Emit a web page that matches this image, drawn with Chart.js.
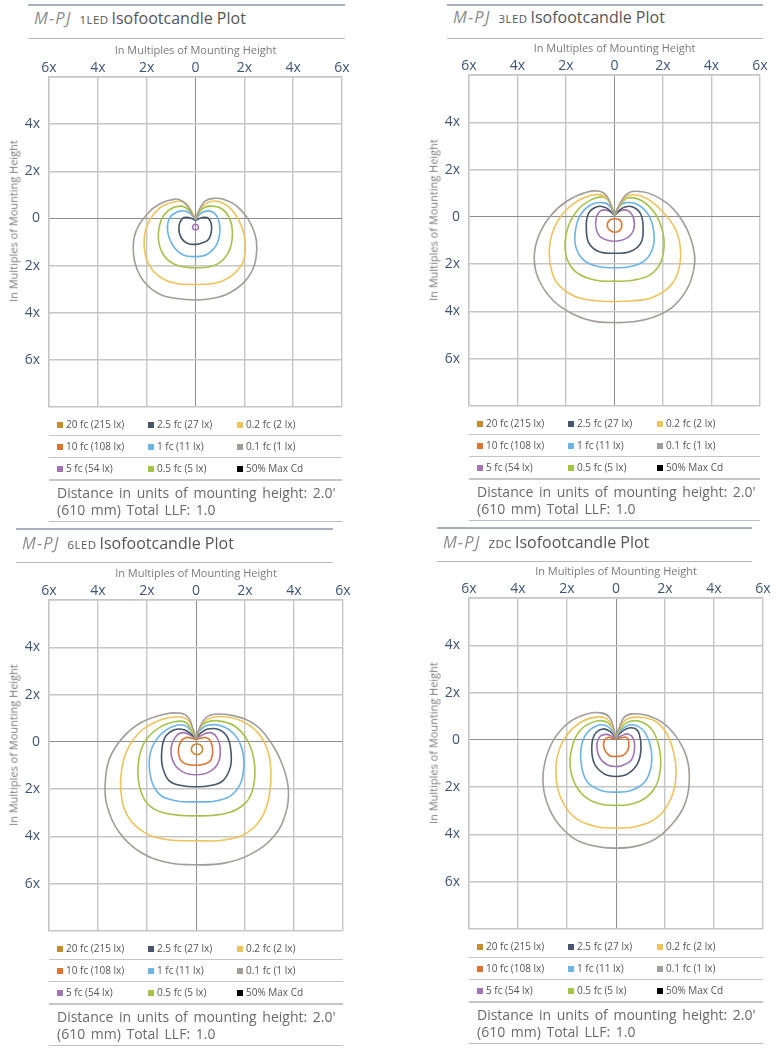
<!DOCTYPE html>
<html>
<head>
<meta charset="utf-8">
<title>M-PJ Isofootcandle Plots</title>
<script src="https://cdn.jsdelivr.net/npm/chart.js@4.4.1/dist/chart.umd.min.js"></script>
<style>
    body { margin: 0; background: #fff; font-family: 'Open Sans', sans-serif; }
    #page { position: relative; width: 781px; height: 1049px; overflow: hidden; background: #fff; }
    .rule-top { position: absolute; height: 2px; background: #a8b0bf; }
    .rule { position: absolute; height: 1px; background: #b9b9b9; }
    .ptitle { position: absolute; font-size: 16px; color: #555; white-space: nowrap; line-height: 20px; transform: translateY(-50%); }
    .ptitle .model { font-style: italic; color: #8d8d8d; margin-right: 8px; font-size: 16.5px; letter-spacing: 1.2px; }
    .ptitle .ver { font-size: 11.5px; color: #555; margin-right: 3px; letter-spacing: 0.4px; }
    .ytitle { position: absolute; font-size: 11px; color: #7a7a7a; white-space: nowrap; transform: translate(-50%, -50%) rotate(-90deg); }
    .wrap { position: absolute; }
    .legend { position: absolute; }
    .lrow { position: relative; height: 21px; border-bottom: 1px solid #c6c6c6; font-size: 10px; color: #555; }
    .lrow.last { border-bottom: 2px solid #c6c6c6; }
    .litem { position: absolute; top: 0; line-height: 21px; white-space: nowrap; }
    .sw { display: inline-block; width: 6px; height: 6px; margin-right: 3px; vertical-align: 0px; }
    .dist { font-size: 14px; word-spacing: 2px; white-space: nowrap; color: #6a6a6a; line-height: 17px; padding: 3px 0 0 8px; height: 37px; border-bottom: 1.5px solid #bdbdbd; }
</style>
</head>
<body>
<div id="page"></div>

<script>
// ---- AXES ----
const X_TICKS = [-6, -4, -2, 0, 2, 4, 6];
const X_TICK_LABELS = ['6x', '4x', '2x', '0', '2x', '4x', '6x'];
const Y_TICKS = [6, 4, 2, 0, -2, -4, -6, -8];
const Y_TICK_LABELS = ['', '4x', '2x', '0', '2x', '4x', '6x', ''];
const AXIS_TITLE = 'In Multiples of Mounting Height';

// ---- LEGEND (row-major, 3 columns) ----
const LEGEND_LABELS = ['20 fc (215 lx)', '2.5 fc (27 lx)', '0.2 fc (2 lx)',
                       '10 fc (108 lx)', '1 fc (11 lx)', '0.1 fc (1 lx)',
                       '5 fc (54 lx)', '0.5 fc (5 lx)', '50% Max Cd'];
const LEGEND_KEYS = ['fc20', 'fc2_5', 'fc0_2', 'fc10', 'fc1', 'fc0_1', 'fc5', 'fc0_5', 'maxcd'];
const LEVEL_COLORS = {
    fc20: '#c68d30', fc10: '#dd7431', fc5: '#a274b3', fc2_5: '#46566b',
    fc1: '#6cb3e6', fc0_5: '#a5c34b', fc0_2: '#edc35c', fc0_1: '#a19d99', maxcd: '#000000'
};
const NOTE_LINES = ["Distance in units of mounting height: 2.0'", '(610 mm) Total LLF: 1.0'];

// ---- CONTOURS: [x, y] in multiples of mounting height (y up = behind) ----
// 1LED
const LED1_GRAY = [[0,-0.04],[0.16,0.38],[0.39,0.73],[0.73,0.85],[1.14,0.81],[1.69,0.52],[2.16,-0.04],[2.44,-0.68],[2.51,-1.24],[2.4,-2.02],[2.03,-2.66],[1.41,-3.15],[0.73,-3.39],[0,-3.46],[-0.77,-3.4],[-1.46,-3.22],[-2.07,-2.73],[-2.44,-2.02],[-2.55,-1.17],[-2.41,-0.47],[-2.0,0.17],[-1.46,0.62],[-0.84,0.82],[-0.53,0.73],[-0.29,0.48],[-0.12,0.14],[0,-0.04]];
const LED1_YELLOW = [[0,-0.04],[0.18,0.38],[0.48,0.66],[0.87,0.73],[1.41,0.45],[1.82,-0.18],[2.03,-0.96],[1.96,-1.81],[1.55,-2.37],[0.87,-2.73],[0,-2.8],[-0.91,-2.73],[-1.59,-2.37],[-2.0,-1.74],[-2.1,-0.89],[-1.93,-0.18],[-1.46,0.45],[-0.84,0.71],[-0.43,0.66],[-0.16,0.31],[0,-0.04]];
const LED1_GREEN = [[0,-0.04],[0.25,0.38],[0.59,0.52],[1.07,0.41],[1.41,-0.04],[1.51,-0.75],[1.34,-1.45],[0.87,-1.95],[0,-2.09],[-0.84,-1.95],[-1.32,-1.53],[-1.52,-0.82],[-1.39,-0.04],[-1.05,0.38],[-0.57,0.52],[-0.23,0.31],[0,-0.04]];
const LED1_BLUE = [[0,-0.04],[0.25,0.24],[0.59,0.31],[0.87,0.1],[1.0,-0.47],[0.87,-1.1],[0.46,-1.53],[0,-1.62],[-0.5,-1.55],[-0.91,-1.17],[-1.14,-0.54],[-1.05,0.03],[-0.64,0.31],[-0.25,0.24],[0,-0.04]];
const LED1_DARK = [[0,-0.08],[0.25,0.03],[0.53,0],[0.66,-0.4],[0.53,-0.89],[0.18,-1.07],[0,-1.1],[-0.29,-1.07],[-0.57,-0.85],[-0.68,-0.4],[-0.53,0],[-0.25,0.03],[0,-0.08]];
const LED1_PURPLE = [[0,-0.25],[0.085,-0.285],[0.12,-0.37],[0.085,-0.455],[0,-0.49],[-0.085,-0.455],[-0.12,-0.37],[-0.085,-0.285],[0,-0.25]];

// 3LED
const LED3_GRAY = [[0,0.05],[0.2,0.52],[0.48,0.94],[0.82,1.08],[1.56,0.94],[2.38,0.38],[2.99,-0.53],[3.29,-1.52],[3.27,-2.22],[2.99,-3.06],[2.38,-3.83],[1.56,-4.26],[0.75,-4.44],[0,-4.47],[-0.88,-4.41],[-1.7,-4.12],[-2.52,-3.55],[-3.13,-2.64],[-3.31,-1.73],[-3.13,-0.81],[-2.65,0.03],[-1.97,0.66],[-1.16,1.04],[-0.61,1.08],[-0.31,0.87],[-0.14,0.45],[0,0.05]];
const LED3_YELLOW = [[0,0.05],[0.2,0.48],[0.61,0.91],[1.29,0.8],[1.97,0.24],[2.52,-0.53],[2.72,-1.38],[2.65,-2.22],[2.31,-2.92],[1.56,-3.41],[0.75,-3.55],[0,-3.58],[-0.88,-3.54],[-1.7,-3.34],[-2.38,-2.78],[-2.65,-2.01],[-2.68,-1.24],[-2.45,-0.39],[-1.97,0.31],[-1.29,0.8],[-0.61,0.94],[-0.27,0.73],[-0.1,0.31],[0,0.05]];
const LED3_GREEN = [[0,0.05],[0.2,0.45],[0.54,0.8],[1.16,0.66],[1.7,0.1],[2.0,-0.67],[2.04,-1.31],[1.9,-1.94],[1.5,-2.43],[0.82,-2.67],[0,-2.72],[-0.82,-2.67],[-1.56,-2.36],[-1.95,-1.8],[-2.04,-1.1],[-1.9,-0.39],[-1.5,0.31],[-0.95,0.73],[-0.48,0.84],[-0.18,0.59],[0,0.05]];
const LED3_BLUE = [[0,0.05],[0.14,0.38],[0.41,0.59],[0.95,0.52],[1.43,0.03],[1.63,-0.74],[1.56,-1.38],[1.22,-1.87],[0.61,-2.11],[0,-2.15],[-0.61,-2.11],[-1.22,-1.87],[-1.56,-1.38],[-1.63,-0.74],[-1.43,0.03],[-0.95,0.52],[-0.41,0.59],[-0.14,0.38],[0,0.05]];
const LED3_DARK = [[0,0.05],[0.34,0.38],[0.75,0.42],[1.09,0.1],[1.18,-0.53],[1.09,-1.1],[0.68,-1.45],[0,-1.54],[-0.68,-1.45],[-1.06,-1.1],[-1.16,-0.53],[-1.09,0.1],[-0.75,0.42],[-0.34,0.38],[0,0.05]];
const LED3_PURPLE = [[0,0.05],[0.2,0.24],[0.54,0.27],[0.78,-0.04],[0.79,-0.53],[0.54,-0.88],[0,-1.03],[-0.54,-0.88],[-0.75,-0.53],[-0.75,-0.04],[-0.54,0.27],[-0.2,0.24],[0,0.05]];
const LED3_ORANGE = [[0.03,-0.07],[0.23,-0.14],[0.3,-0.35],[0.23,-0.56],[0.03,-0.65],[-0.2,-0.56],[-0.3,-0.35],[-0.2,-0.14],[0.03,-0.07]];

// 6LED
const LED6_GRAY = [[0,0.14],[0.18,0.68],[0.41,1.03],[0.75,1.17],[1.56,1.1],[2.38,0.75],[3.06,-0.03],[3.54,-1.01],[3.77,-2.0],[3.67,-2.99],[3.2,-3.97],[2.24,-4.75],[1.16,-5.13],[0,-5.2],[-1.16,-5.1],[-2.24,-4.68],[-3.13,-3.83],[-3.63,-2.7],[-3.71,-1.86],[-3.54,-0.73],[-2.99,0.18],[-2.24,0.82],[-1.29,1.17],[-0.61,1.21],[-0.31,1.03],[-0.14,0.61],[0,0.14]];
const LED6_YELLOW = [[0,0.14],[0.18,0.61],[0.48,0.96],[1.02,1.07],[1.84,0.89],[2.52,0.39],[2.93,-0.38],[3.06,-1.3],[2.99,-2.28],[2.72,-3.13],[2.11,-3.83],[1.16,-4.15],[0,-4.18],[-1.16,-4.14],[-2.11,-3.83],[-2.79,-3.13],[-3.06,-2.14],[-3.03,-1.15],[-2.79,-0.31],[-2.24,0.46],[-1.43,0.93],[-0.75,1.06],[-0.34,0.93],[-0.14,0.54],[0,0.14]];
const LED6_GREEN = [[0,0.14],[0.14,0.54],[0.41,0.82],[0.88,0.89],[1.56,0.68],[2.11,0.04],[2.38,-0.87],[2.35,-1.86],[2.04,-2.56],[1.29,-3.01],[0,-3.13],[-1.29,-3.01],[-1.97,-2.63],[-2.31,-1.86],[-2.35,-0.87],[-2.11,-0.03],[-1.56,0.56],[-0.88,0.85],[-0.41,0.82],[-0.18,0.46],[0,0.14]];
const LED6_BLUE = [[0,0.14],[0.14,0.46],[0.48,0.7],[1.02,0.68],[1.56,0.32],[1.88,-0.31],[1.95,-1.08],[1.77,-1.86],[1.22,-2.39],[0,-2.54],[-1.22,-2.39],[-1.7,-1.93],[-1.9,-1.15],[-1.84,-0.38],[-1.5,0.25],[-0.95,0.65],[-0.48,0.7],[-0.16,0.42],[0,0.14]];
const LED6_DARK = [[0,0.14],[0.14,0.32],[0.48,0.54],[0.95,0.51],[1.29,0.18],[1.43,-0.45],[1.4,-1.08],[1.09,-1.65],[0.54,-1.86],[0,-1.9],[-0.54,-1.86],[-1.09,-1.65],[-1.36,-1.08],[-1.4,-0.45],[-1.27,0.18],[-0.88,0.51],[-0.48,0.51],[-0.14,0.28],[0,0.14]];
const LED6_PURPLE = [[0,0.14],[0.14,0.23],[0.54,0.39],[0.82,0.23],[0.99,-0.31],[0.88,-0.94],[0.48,-1.3],[0,-1.39],[-0.48,-1.3],[-0.88,-0.94],[-1.02,-0.31],[-0.82,0.23],[-0.5,0.39],[-0.14,0.23],[0,0.14]];
const LED6_ORANGE = [[0,0.1],[0.14,0.14],[0.41,0.18],[0.61,0],[0.68,-0.45],[0.54,-0.85],[0,-0.99],[-0.54,-0.87],[-0.72,-0.45],[-0.64,-0.03],[-0.41,0.18],[-0.14,0.14],[0,0.1]];
const LED6_GOLD = [[0.04,-0.08],[0.2,-0.15],[0.27,-0.31],[0.2,-0.47],[0.04,-0.54],[-0.12,-0.47],[-0.19,-0.31],[-0.12,-0.15],[0.04,-0.08]];

// ZDC
const ZDC_GRAY = [[0,0.07],[0.14,0.54],[0.34,0.96],[0.68,1.1],[1.29,1.03],[1.97,0.68],[2.52,0.04],[2.9,-0.8],[2.99,-1.79],[2.79,-2.77],[2.24,-3.62],[1.36,-4.32],[0,-4.58],[-1.36,-4.35],[-2.18,-3.76],[-2.72,-2.92],[-2.97,-1.93],[-2.9,-0.94],[-2.52,0.04],[-1.9,0.75],[-1.16,1.1],[-0.61,1.14],[-0.27,0.96],[-0.11,0.54],[0,0.07]];
const ZDC_YELLOW = [[0,0.07],[0.14,0.46],[0.41,0.86],[0.88,0.96],[1.56,0.82],[2.04,0.32],[2.35,-0.52],[2.45,-1.51],[2.24,-2.49],[1.7,-3.27],[0.88,-3.65],[0,-3.73],[-0.88,-3.65],[-1.7,-3.27],[-2.24,-2.49],[-2.45,-1.51],[-2.35,-0.52],[-1.97,0.25],[-1.43,0.75],[-0.82,0.96],[-0.37,0.89],[-0.14,0.46],[0,0.07]];
const ZDC_GREEN = [[0,0.07],[0.14,0.39],[0.48,0.75],[1.02,0.77],[1.5,0.39],[1.77,-0.38],[1.81,-1.23],[1.56,-2.07],[0.95,-2.61],[0,-2.77],[-0.95,-2.61],[-1.56,-2.07],[-1.86,-1.23],[-1.81,-0.38],[-1.5,0.35],[-0.95,0.75],[-0.41,0.77],[-0.11,0.44],[0,0.07]];
const ZDC_BLUE = [[0,0.07],[0.14,0.32],[0.48,0.61],[0.88,0.58],[1.22,0.25],[1.43,-0.38],[1.43,-1.15],[1.16,-1.79],[0.61,-2.14],[0,-2.21],[-0.61,-2.14],[-1.16,-1.79],[-1.4,-1.15],[-1.43,-0.38],[-1.22,0.25],[-0.82,0.58],[-0.41,0.61],[-0.11,0.32],[0,0.07]];
const ZDC_DARK = [[0,0.07],[0.14,0.25],[0.41,0.46],[0.75,0.49],[0.95,0.25],[1.02,-0.38],[0.88,-1.01],[0.48,-1.44],[0,-1.55],[-0.48,-1.44],[-0.88,-1.01],[-0.99,-0.38],[-0.88,0.21],[-0.54,0.46],[-0.23,0.35],[0,0.07]];
const ZDC_PURPLE = [[0,0.07],[0.18,0.15],[0.48,0.25],[0.71,0.04],[0.75,-0.45],[0.61,-0.87],[0.27,-1.08],[0,-1.13],[-0.34,-1.06],[-0.64,-0.8],[-0.78,-0.31],[-0.68,0.11],[-0.41,0.23],[-0.14,0.14],[0,0.07]];
const ZDC_ORANGE = [[0,0.05],[0.18,0.08],[0.41,0.11],[0.52,-0.07],[0.48,-0.45],[0.27,-0.66],[0,-0.7],[-0.27,-0.66],[-0.48,-0.38],[-0.48,-0.03],[-0.31,0.11],[-0.14,0.07],[0,0.05]];

// Panel layout (pixel boxes of each plot area + its header)
const PANELS = [
    { ver: '1LED', plot: { l: 49, t: 77, r: 342, b: 407 }, head: { x1: 28, x2: 345, r1: 4, ty: 19, r2: 38 },
      contours: [['fc0_1', LED1_GRAY], ['fc0_2', LED1_YELLOW], ['fc0_5', LED1_GREEN], ['fc1', LED1_BLUE], ['fc2_5', LED1_DARK], ['fc5', LED1_PURPLE]] },
    { ver: '3LED', plot: { l: 469, t: 75, r: 760, b: 406 }, head: { x1: 447, x2: 763, r1: 4, ty: 18, r2: 38 },
      contours: [['fc0_1', LED3_GRAY], ['fc0_2', LED3_YELLOW], ['fc0_5', LED3_GREEN], ['fc1', LED3_BLUE], ['fc2_5', LED3_DARK], ['fc5', LED3_PURPLE], ['fc10', LED3_ORANGE]] },
    { ver: '6LED', plot: { l: 49, t: 600, r: 343, b: 931 }, head: { x1: 16, x2: 333, r1: 528, ty: 544, r2: 562 },
      contours: [['fc0_1', LED6_GRAY], ['fc0_2', LED6_YELLOW], ['fc0_5', LED6_GREEN], ['fc1', LED6_BLUE], ['fc2_5', LED6_DARK], ['fc5', LED6_PURPLE], ['fc10', LED6_ORANGE], ['fc20', LED6_GOLD]] },
    { ver: 'ZDC', plot: { l: 469, t: 598, r: 763, b: 929 }, head: { x1: 437, x2: 752, r1: 527, ty: 543, r2: 561 },
      contours: [['fc0_1', ZDC_GRAY], ['fc0_2', ZDC_YELLOW], ['fc0_5', ZDC_GREEN], ['fc1', ZDC_BLUE], ['fc2_5', ZDC_DARK], ['fc5', ZDC_PURPLE], ['fc10', ZDC_ORANGE]] }
];

const GRID_COLOR = '#c6c6c6';
const ZERO_COLOR = '#8e8e8e';
const TICK_COLOR = '#3f5672';
const Y_AXIS_W = 49;
const X_AXIS_H = 37;
const PAD_RIGHT = 12;
const PAD_BOTTOM = 20; // must exceed the y-scale's own bottom padding (half label + tick padding)

function el(tag, cls, css) {
    const d = document.createElement(tag);
    if (cls) d.className = cls;
    if (css) Object.assign(d.style, css);
    document.getElementById('page').appendChild(d);
    return d;
}

function buildHeader(p) {
    const h = p.head;
    el('div', 'rule-top', { left: h.x1 + 'px', top: h.r1 + 'px', width: (h.x2 - h.x1) + 'px' });
    const t = el('div', 'ptitle', { left: (h.x1 + 6) + 'px', top: h.ty + 'px' });
    t.innerHTML = '<span class="model">M-PJ</span><span class="ver"></span>Isofootcandle Plot';
    t.querySelector('.ver').textContent = p.ver;
    el('div', 'rule', { left: h.x1 + 'px', top: h.r2 + 'px', width: (h.x2 - h.x1) + 'px' });
}

function buildLegend(p) {
    const pl = p.plot;
    const box = el('div', 'legend', { left: pl.l + 'px', top: (pl.b + 7) + 'px', width: (pl.r - pl.l) + 'px' });
    const colX = [8, 99, 188];
    for (let r = 0; r < 3; r++) {
        const row = document.createElement('div');
        row.className = 'lrow' + (r === 2 ? ' last' : '');
        for (let c = 0; c < 3; c++) {
            const i = r * 3 + c;
            const item = document.createElement('div');
            item.className = 'litem';
            item.style.left = colX[c] + 'px';
            const sw = document.createElement('span');
            sw.className = 'sw';
            sw.style.background = LEVEL_COLORS[LEGEND_KEYS[i]];
            item.appendChild(sw);
            item.appendChild(document.createTextNode(LEGEND_LABELS[i]));
            row.appendChild(item);
        }
        box.appendChild(row);
    }
    const note = document.createElement('div');
    note.className = 'dist';
    note.innerHTML = NOTE_LINES.join('<br>');
    box.appendChild(note);
}

function buildChart(p) {
    const pl = p.plot;
    const w = pl.r - pl.l + Y_AXIS_W + PAD_RIGHT;
    const h = pl.b - pl.t + X_AXIS_H + PAD_BOTTOM;
    const wrap = el('div', 'wrap', { left: (pl.l - Y_AXIS_W) + 'px', top: (pl.t - X_AXIS_H) + 'px', width: w + 'px', height: h + 'px' });
    const canvas = document.createElement('canvas');
    canvas.width = w;
    canvas.height = h;
    wrap.appendChild(canvas);

    // y-axis title sits outside the canvas, centred a little under the 0 line
    const zeroY = pl.t + (pl.b - pl.t) * 6 / 14;
    const yt = el('div', 'ytitle', { left: (pl.l - 36) + 'px', top: (zeroY + 3) + 'px' });
    yt.textContent = AXIS_TITLE;

    const gridColor = (ctx) => (ctx.tick && ctx.tick.value === 0 ? ZERO_COLOR : GRID_COLOR);
    const gridWidth = (ctx) => (ctx.tick && ctx.tick.value === 0 ? 1 : 1.4);

    new Chart(canvas.getContext('2d'), {
        type: 'scatter',
        data: {
            datasets: p.contours.map(([key, pts]) => ({
                data: pts,
                showLine: true,
                borderColor: LEVEL_COLORS[key],
                borderWidth: 1.6,
                pointRadius: 0,
                tension: 0.4,
                fill: false
            }))
        },
        options: {
            responsive: false,
            animation: false,
            layout: { padding: { top: 0, left: 0, right: PAD_RIGHT, bottom: PAD_BOTTOM } },
            plugins: { legend: { display: false }, tooltip: { enabled: false } },
            scales: {
                x: {
                    type: 'linear', position: 'top', min: -6, max: 6,
                    afterFit: (s) => { s.height = X_AXIS_H; },
                    ticks: {
                        stepSize: 2, padding: 1, color: TICK_COLOR,
                        font: { family: 'Open Sans', size: 14 },
                        callback: (v) => X_TICK_LABELS[X_TICKS.indexOf(v)] ?? ''
                    },
                    grid: { color: gridColor, lineWidth: gridWidth, drawTicks: false },
                    border: { display: true, color: GRID_COLOR, width: 1.4 },
                    title: { display: true, text: AXIS_TITLE, color: '#7a7a7a', font: { family: 'Open Sans', size: 11 }, padding: { top: 4, bottom: 0 } }
                },
                y: {
                    type: 'linear', min: -8, max: 6,
                    afterFit: (s) => { s.width = Y_AXIS_W; },
                    ticks: {
                        stepSize: 2, padding: 9, color: TICK_COLOR,
                        font: { family: 'Open Sans', size: 14 },
                        callback: (v) => Y_TICK_LABELS[Y_TICKS.indexOf(v)] ?? ''
                    },
                    grid: { color: gridColor, lineWidth: gridWidth, drawTicks: false },
                    border: { display: true, color: GRID_COLOR, width: 1.4 }
                }
            }
        }
    });
}

PANELS.forEach(p => {
    buildHeader(p);
    buildChart(p);
    buildLegend(p);
});
</script>
</body>
</html>
